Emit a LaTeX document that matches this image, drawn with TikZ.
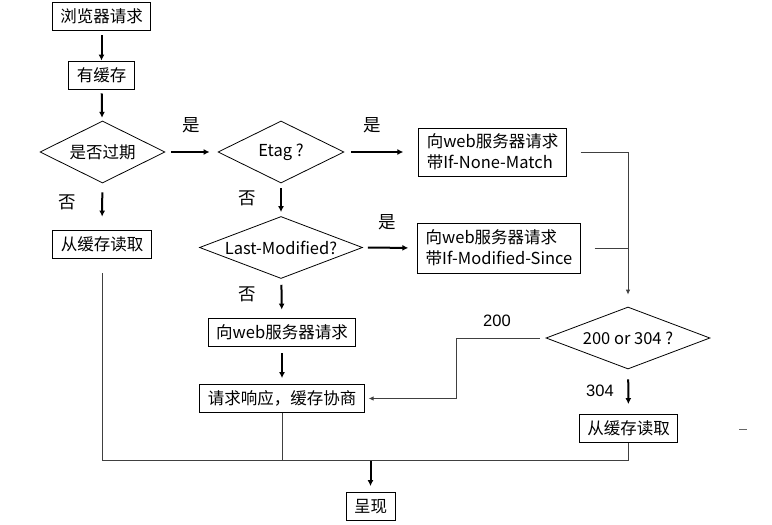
\documentclass[tikz,border=0pt]{standalone}
\usepackage{fontspec}
\setmainfont{Noto Sans CJK SC}
\newfontfamily\numfont{Liberation Sans}
\usetikzlibrary{shapes.geometric,arrows.meta}

\tikzset{
  box/.style={draw, line width=0.8pt, inner xsep=8pt, inner ysep=4pt, minimum height=28pt, font=\fontsize{16.5}{21}\selectfont},
  decision/.style={diamond, draw, line width=0.8pt, inner sep=0pt, minimum width=#1, minimum height=62pt},
  every label/.style={font=\fontsize{16.5}{21}\selectfont},
  arr/.style={line width=2pt, -{Latex[length=6pt,width=6pt]}},
  link/.style={line width=0.9pt, draw=black!75},
  linkarr/.style={link, -{Latex[length=5pt,width=4.5pt]}},
  edgelabel/.style={font=\fontsize{17.5}{20}\selectfont},
  codelabel/.style={font=\numfont\fontsize{16.5}{20}\selectfont}
}

\begin{document}
\begin{tikzpicture}[x=1pt,y=-1pt]
\useasboundingbox (0,0) rectangle (772,525);

% left column
\node[box] (req) at (101.5,16) {浏览器请求};
\node[box] (cache) at (101.5,75) {有缓存};
\node[decision=125pt, label=center:是否过期] (expired) at (102.5,152) {};
\node[box] (readA) at (102,244) {从缓存读取};

% middle column
\node[decision=126pt, label=center:Etag ?] (etag) at (281,152) {};
\node[decision=163pt, label=center:Last-Modified?] (lastmod) at (281,247.5) {};
\node[box] (server) at (282,332) {向web服务器请求};
\node[box] (nego) at (282,398.5) {请求响应，缓存协商};
\node[box] (show) at (370.5,506.5) {呈现};

% right column
\node[box, align=left, minimum height=48pt] (nonematch) at (492.5,152) {向web服务器请求\\带If-None-Match};
\node[box, align=left, minimum height=50pt] (modsince) at (499,248) {向web服务器请求\\带If-Modified-Since};
\node[decision=164pt, label=center:200 or 304 ?] (code) at (628,338) {};
\node[box] (readB) at (628.5,428.5) {从缓存读取};

% labels
\node[edgelabel] (yesA) at (191,125) {是};
\node[edgelabel] (noA) at (67,202) {否};
\node[edgelabel] (yesB) at (372,125) {是};
\node[edgelabel] (noB) at (247,198) {否};
\node[edgelabel] (yesC) at (387,222) {是};
\node[edgelabel] (noC) at (247,294) {否};
\node[codelabel] (ok) at (497,321) {200};
\node[codelabel] (notmod) at (600,391) {304};

\coordinate (bend) at (456,338);
\coordinate (merge) at (370.5,460);

% arrows
\draw[arr, shorten <=5pt] (req) -- (cache);
\draw[arr, shorten <=4pt, shorten >=3pt] (cache) -- (expired);
\draw[arr, shorten <=9pt, shorten >=13pt] (expired) -- (readA);
\draw[arr, shorten <=6pt, shorten >=8pt] (expired) -- (etag);
\draw[arr, shorten <=7pt, shorten >=15pt] (etag) -- (nonematch.west);
\draw[arr, shorten <=5pt, shorten >=4pt] (etag) -- (lastmod);
\draw[arr, shorten <=5pt, shorten >=9pt] (lastmod.east) -- (modsince.west);
\draw[arr, shorten <=6pt, shorten >=8pt] (lastmod) -- (server);
\draw[arr, shorten <=7pt, shorten >=6pt] (server) -- (nego);
\draw[arr, shorten <=10pt, shorten >=10pt] (code) -- (readB);
\draw[arr, shorten >=6pt] (merge) -- (show);

% thin lines
\draw[linkarr, shorten <=14pt, shorten >=12pt] (nonematch.east) -| (code.north);
\draw[link, shorten <=14pt] (modsince.east) -- (modsince.east -| code.north);
\draw[linkarr, shorten <=6pt, shorten >=4pt] (code.west) -- (bend) |- (nego.east);
\draw[link, shorten <=15pt] (readA.south) -- (readA.south |- merge) -- (readB.south |- merge) -- (readB.south);
\draw[link] (nego.south) -- (nego.south |- merge);

\draw[black!60, line width=0.8pt] (739,429) -- (747,429);

\end{tikzpicture}
\end{document}
